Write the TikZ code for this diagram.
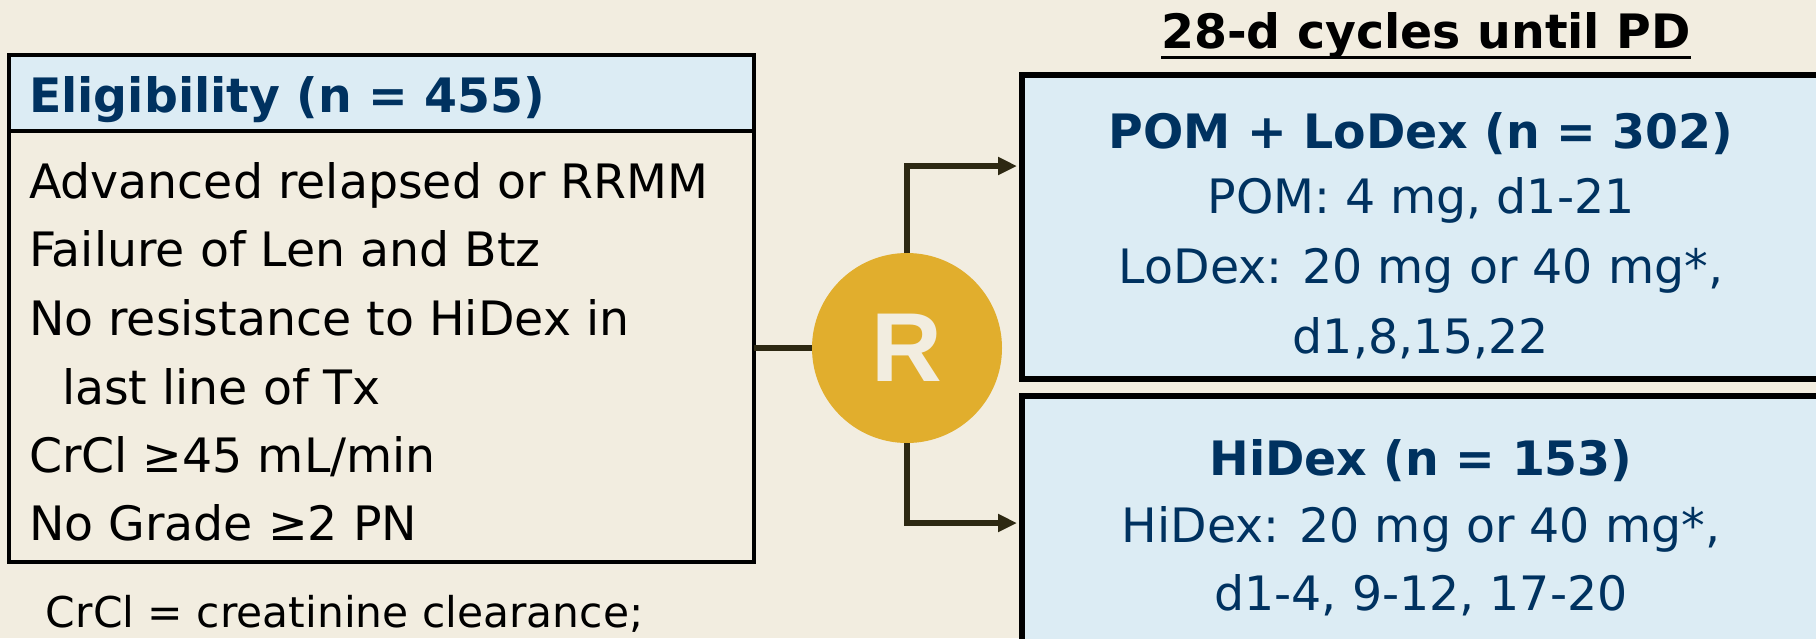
\documentclass[tikz,border=0pt]{standalone}
\usepackage{fontspec}
\setmainfont{DejaVu Sans}
\newfontfamily\letterfont{Liberation Sans}
\usetikzlibrary{arrows.meta}
\definecolor{paper}{RGB}{242,237,224}
\definecolor{paleblue}{RGB}{220,236,244}
\definecolor{gold}{RGB}{225,174,45}
\definecolor{navy}{RGB}{0,50,96}
\definecolor{wire}{RGB}{45,40,18}
\tikzset{
  body/.style={inner sep=0pt, outer sep=0pt, font=\fontsize{23.7pt}{28pt}\selectfont},
  bodybold/.style={body, font=\fontsize{23.7pt}{28pt}\selectfont\bfseries},
  note/.style={inner sep=0pt, outer sep=0pt, font=\fontsize{21.2pt}{25pt}\selectfont},
  panel/.style={draw=black, line width=2pt, inner sep=0pt, outer sep=0pt, rectangle},
  armbox/.style={draw=black, line width=3pt, fill=paleblue, inner sep=0pt, outer sep=0pt,
                 minimum width=400pt, minimum height=152pt},
  link/.style={draw=wire, line width=2.75pt},
  arrowlink/.style={link, -{Triangle[length=9.5pt,width=8.5pt]}, shorten >=2.5pt},
}
\begin{document}
\begin{tikzpicture}[x=0.5pt,y=-0.5pt]
\useasboundingbox (0,0) rectangle (1816,638);
\fill[paper] (0,0) rectangle (1816,638);
\clip (0,0) rectangle (1816,638);

% eligibility panel with its shaded header strip
\node[panel, fill=paper, minimum width=372.5pt, minimum height=253.5pt] (elig) at (381.5,308.5) {};
\node[panel, fill=paleblue, minimum width=372.5pt, minimum height=38pt] (head) at (381.5,93) {};
\node[bodybold, text=navy, anchor=base west] (headtxt) at (29,112) {Eligibility (n = 455)};
\node[body, anchor=base west] (c1) at (29,198) {Advanced relapsed or RRMM};
\node[body, anchor=base west] (c2) at (29,266) {Failure of Len and Btz};
\node[body, anchor=base west] (c3) at (29,335) {No resistance to HiDex in};
\node[body, anchor=base west] (c4) at (62,404) {last line of Tx};
\node[body, anchor=base west] (c5) at (29,472) {CrCl ≥45 mL/min};
\node[body, anchor=base west] (c6) at (29,540) {No Grade ≥2 PN};
\node[note, anchor=base west] (foot) at (46,627) {CrCl = creatinine clearance;};

% heading over the treatment arms
\node[bodybold, anchor=base] (cyc) at (1426,48) {28-d cycles until PD};
\draw[line width=1.5pt] ([yshift=-4.5pt]cyc.base west) -- ([yshift=-4.5pt]cyc.base east);

% treatment arms
\node[armbox] (pom) at (1422,227) {};
\node[bodybold, text=navy, anchor=base] (pomt) at (1421,148) {POM + LoDex (n = 302)};
\node[body, text=navy, anchor=base] (pom1) at (1421,213) {POM: 4 mg, d1-21};
\node[body, text=navy, anchor=base] (pom2) at (1421,283) {LoDex: 20 mg or 40 mg*,};
\node[body, text=navy, anchor=base] (pom3) at (1421,353) {d1,8,15,22};

\node[armbox] (hid) at (1422,548) {};
\node[bodybold, text=navy, anchor=base] (hidt) at (1421,475) {HiDex (n = 153)};
\node[body, text=navy, anchor=base] (hid1) at (1421,542) {HiDex: 20 mg or 40 mg*,};
\node[body, text=navy, anchor=base] (hid2) at (1421,610) {d1-4, 9-12, 17-20};

% randomisation hub
\node[circle, fill=gold, minimum size=95pt, inner sep=0pt, outer sep=0pt] (rand) at (907,348) {};
\node[text=paper, inner sep=0pt, font=\letterfont\bfseries\fontsize{49pt}{50pt}\selectfont] (rlet) at (rand.center) {R};

% connectors
\draw[link] (elig.east |- rand.west) -- (rand.west);
\draw[arrowlink] (rand.north) |- (pom.west |- 0,166);
\draw[arrowlink] (rand.south) |- (hid.west |- 0,523);
\end{tikzpicture}
\end{document}
